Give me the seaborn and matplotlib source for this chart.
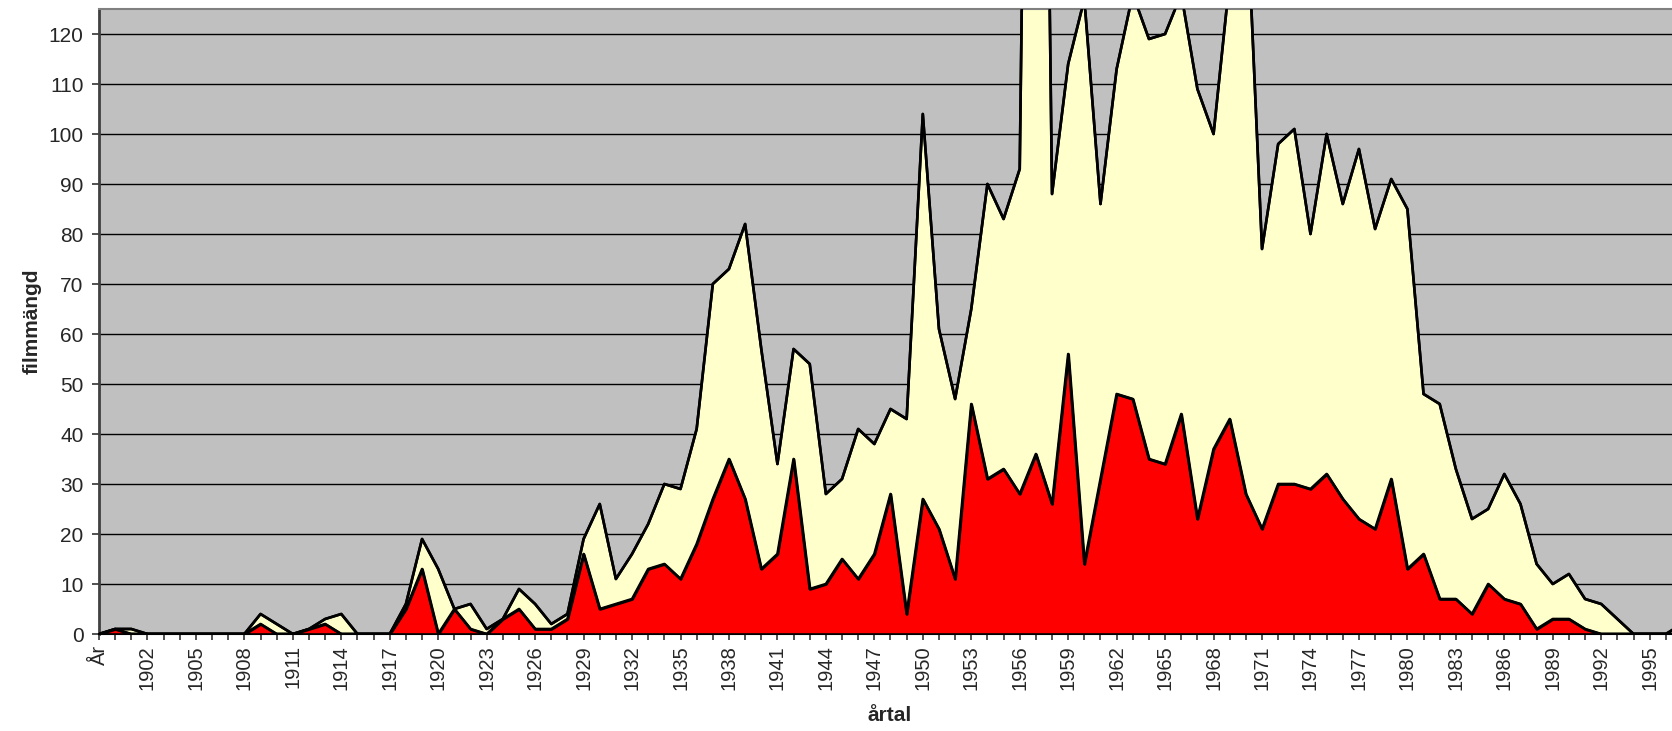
import numpy as np
import pandas as pd
import matplotlib
matplotlib.use("Agg")
import matplotlib.pyplot as plt
import seaborn as sns

# ---- data -------------------------------------------------------------
years = list(range(1900, 1998))
categories = ["År"] + [str(y) for y in years]

# total number of films per year (light yellow area)
total = [0,
         1, 1, 0, 0, 0, 0, 0, 0, 0, 4,        # 1900-1909
         2, 0, 1, 3, 4, 0, 0, 0, 6, 19,       # 1910-1919
         13, 5, 6, 1, 3, 9, 6, 2, 4, 19,      # 1920-1929
         26, 11, 16, 22, 30, 29, 41, 70, 73, 82,   # 1930-1939
         57, 34, 57, 54, 28, 31, 41, 38, 45, 43,   # 1940-1949
         104, 61, 47, 65, 90, 83, 93, 350, 88, 114,  # 1950-1959
         127, 86, 113, 128, 119, 120, 128, 109, 100, 131,  # 1960-1969
         150, 77, 98, 101, 80, 100, 86, 97, 81, 91,  # 1970-1979
         85, 48, 46, 33, 23, 25, 32, 26, 14, 10,   # 1980-1989
         12, 7, 6, 3, 0, 0, 0, 2]                  # 1990-1997

# subset (red area)
subset = [0,
          1, 0, 0, 0, 0, 0, 0, 0, 0, 2,
          0, 0, 1, 2, 0, 0, 0, 0, 5, 13,
          0, 5, 1, 0, 3, 5, 1, 1, 3, 16,
          5, 6, 7, 13, 14, 11, 18, 27, 35, 27,
          13, 16, 35, 9, 10, 15, 11, 16, 28, 4,
          27, 21, 11, 46, 31, 33, 28, 36, 26, 56,
          14, 31, 48, 47, 35, 34, 44, 23, 37, 43,
          28, 21, 30, 30, 29, 32, 27, 23, 21, 31,
          13, 16, 7, 7, 4, 10, 7, 6, 1, 3,
          3, 1, 0, 0, 0, 0, 0, 0]

y_ticks = list(range(0, 121, 10))

df = pd.DataFrame({"pos": np.arange(len(categories)),
                   "kategori": categories,
                   "total": total,
                   "subset": subset})

# ---- style ------------------------------------------------------------
sns.set_style("white")
plt.rcParams["font.family"] = ["Liberation Sans", "DejaVu Sans"]

W, H = 1672, 731
fig = plt.figure(figsize=(W / 100, H / 100), dpi=100)
left_px, right_px, top_px, bottom_px = 99, 1682, 9, 634
ax = fig.add_axes([left_px / W, 1 - bottom_px / H,
                   (right_px - left_px) / W, (bottom_px - top_px) / H])
ax.set_facecolor("#C0C0C0")

YELLOW = "#FFFFCC"
RED = "#FF0000"
LW = 1.9

ax.fill_between(df["pos"], df["total"], 0, facecolor=YELLOW,
                edgecolor="black", linewidth=LW, zorder=2)
sns.lineplot(data=df, x="pos", y="total", color="black", linewidth=LW,
             ax=ax, zorder=3, legend=False)
ax.fill_between(df["pos"], df["subset"], 0, facecolor=RED,
                edgecolor="black", linewidth=LW, zorder=4)
sns.lineplot(data=df, x="pos", y="subset", color="black", linewidth=LW,
             ax=ax, zorder=5, legend=False)

ax.set_xlim(0, len(categories) - 1)
ax.set_ylim(0, 125)

# grid
ax.set_yticks(y_ticks)
ax.yaxis.grid(True, color="black", linewidth=1.0)
ax.xaxis.grid(False)
ax.set_axisbelow(True)

# ticks
ax.set_xticks(df["pos"])
ax.set_xticklabels([c if i % 3 == 0 else "" for i, c in enumerate(categories)],
                   rotation=90, fontsize=14.5)
ax.tick_params(axis="x", direction="out", length=4.5, width=1.2,
               color="#333333", pad=3.5, bottom=True)
ax.tick_params(axis="y", direction="out", length=5, width=1.2,
               color="#333333", pad=6, left=True, labelsize=15)

# spines
ax.spines["right"].set_visible(False)
ax.spines["top"].set_color("#808080")
ax.spines["top"].set_linewidth(1.5)
ax.spines["left"].set_color("#404040")
ax.spines["left"].set_linewidth(2.0)
ax.spines["bottom"].set_color("black")
ax.spines["bottom"].set_linewidth(1.5)

ax.set_xlabel("årtal", fontsize=15, fontweight="bold")
ax.set_ylabel("filmmängd", fontsize=15, fontweight="bold")
ax.xaxis.set_label_coords((890 - left_px) / (right_px - left_px),
                          (bottom_px - 706) / (bottom_px - top_px))
ax.yaxis.set_label_coords((42 - left_px) / (right_px - left_px), 0.5)

fig.savefig("out.png", dpi=100)
